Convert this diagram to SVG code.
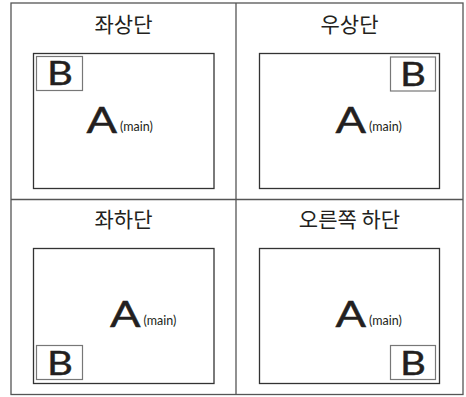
<svg xmlns="http://www.w3.org/2000/svg" width="466" height="397" viewBox="0 0 466 397">
<style>
.frame{fill:none;stroke:#555;stroke-width:1.3}
.main{fill:#fff;stroke:#333;stroke-width:1.3}
.pip{fill:#fff;stroke:#777;stroke-width:1.2}
.title{font-family:"Noto Sans CJK KR","Noto Sans",sans-serif;font-size:21px;fill:#231f20;text-anchor:middle}
.big{font-family:Lato,"Liberation Sans",sans-serif;font-size:37px;fill:#231f20;stroke:#231f20;stroke-width:0.5}
.bl{font-family:Lato,"Liberation Sans",sans-serif;font-size:32px;fill:#231f20;stroke:#231f20;stroke-width:0.4;text-anchor:middle}
.sub{font-family:Lato,"Liberation Sans",sans-serif;font-size:12.5px;fill:#231f20}
</style>
<rect width="466" height="397" fill="#fff"/>
<g id="frame">
<rect class="frame" x="11" y="3" width="452" height="391.5"/>
<line class="frame" x1="236" y1="3" x2="236" y2="394.5"/>
<line class="frame" x1="11" y1="199.5" x2="463" y2="199.5"/>
</g>
<g id="top-left">
<text class="title" x="123.5" y="32">좌상단</text>
<rect class="main" x="33.5" y="53.5" width="180.5" height="135"/>
<rect class="pip" x="36.5" y="56.5" width="46" height="34"/>
<text class="bl" transform="translate(60,85) scale(1.25,1)">B</text>
<text class="big" transform="translate(86.5,133) scale(1.22,1)">A</text>
<text class="sub" x="120" y="131">(main)</text>
</g>
<g id="top-right">
<text class="title" x="349.5" y="32">우상단</text>
<rect class="main" x="259.5" y="53.5" width="180" height="135"/>
<rect class="pip" x="390.5" y="57" width="45" height="34"/>
<text class="bl" transform="translate(413,85.5) scale(1.25,1)">B</text>
<text class="big" transform="translate(335.5,132.5) scale(1.22,1)">A</text>
<text class="sub" x="369" y="130.5">(main)</text>
</g>
<g id="bottom-left">
<text class="title" x="123.5" y="226.5">좌하단</text>
<rect class="main" x="33.5" y="248.5" width="180.5" height="135"/>
<rect class="pip" x="36.5" y="345.5" width="46" height="34"/>
<text class="bl" transform="translate(60,375) scale(1.25,1)">B</text>
<text class="big" transform="translate(110,327) scale(1.22,1)">A</text>
<text class="sub" x="143.5" y="325">(main)</text>
</g>
<g id="bottom-right">
<text class="title" x="349.5" y="226.5">오른쪽 하단</text>
<rect class="main" x="259.5" y="248.5" width="180" height="135"/>
<rect class="pip" x="390.5" y="345.5" width="45" height="34"/>
<text class="bl" transform="translate(413,375) scale(1.25,1)">B</text>
<text class="big" transform="translate(335.5,327) scale(1.22,1)">A</text>
<text class="sub" x="369" y="325">(main)</text>
</g>
</svg>
